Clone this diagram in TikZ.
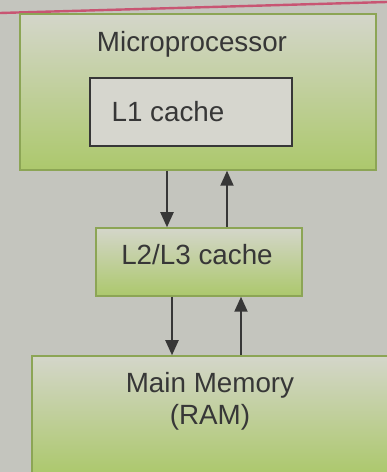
\documentclass[tikz,border=0pt]{standalone}
\usepackage{fontspec}
\setmainfont{Liberation Sans}
\usetikzlibrary{arrows.meta}
\definecolor{paper}{RGB}{196,197,190}
\definecolor{boxtop}{RGB}{212,214,202}
\definecolor{boxbot}{RGB}{172,200,108}
\definecolor{boxedge}{RGB}{140,165,85}
\definecolor{innerfill}{RGB}{214,214,206}
\definecolor{ink}{RGB}{55,55,55}
\definecolor{pinkline}{RGB}{200,85,115}
\tikzset{
  greenbox/.style={draw=boxedge, line width=1.5pt, top color=boxtop, bottom color=boxbot, inner sep=0pt},
  innerbox/.style={draw=ink, line width=1.5pt, fill=innerfill, inner sep=0pt},
  lbl/.style={font=\fontsize{27.8}{32}\selectfont, text=ink, inner sep=0pt, anchor=base},
  arr/.style={draw=ink, line width=2pt, -{Triangle[length=15pt,width=13pt]}}
}
\begin{document}
\begin{tikzpicture}[x=1pt,y=1pt]
\fill[paper] (0,0) rectangle (387,472);
\useasboundingbox (0,0) rectangle (387,472);
\draw[pinkline, line width=2.4pt] (0,459) -- (387,470);
% boxes
\node[greenbox, minimum width=356pt, minimum height=156pt] (mp) at (198,380) {};
\node[innerbox, minimum width=202pt, minimum height=68pt] (l1) at (191,360) {};
\node[greenbox, minimum width=206pt, minimum height=68pt] (l2) at (199,210) {};
\node[greenbox, minimum width=360pt, minimum height=118pt] (mm) at (212,57) {};
% texts
\node[lbl] (mptxt) at (192,420) {Microprocessor};
\node[lbl] (l1txt) at (168,350) {L1 cache};
\node[lbl] (l2txt) at (197,207) {L2/L3 cache};
\node[lbl] (mmtxt) at (210,79) {Main Memory};
\node[lbl] (ramtxt) at (210,48) {(RAM)};
% arrow columns
\coordinate (a1) at (167,0);
\coordinate (a2) at (227,0);
\coordinate (a3) at (172,0);
\coordinate (a4) at (241,0);
\draw[arr] (mp.south -| a1) -- (l2.north -| a1);
\draw[arr] (l2.north -| a2) -- (mp.south -| a2);
\draw[arr] (l2.south -| a3) -- (mm.north -| a3);
\draw[arr] (mm.north -| a4) -- (l2.south -| a4);
\end{tikzpicture}
\end{document}
